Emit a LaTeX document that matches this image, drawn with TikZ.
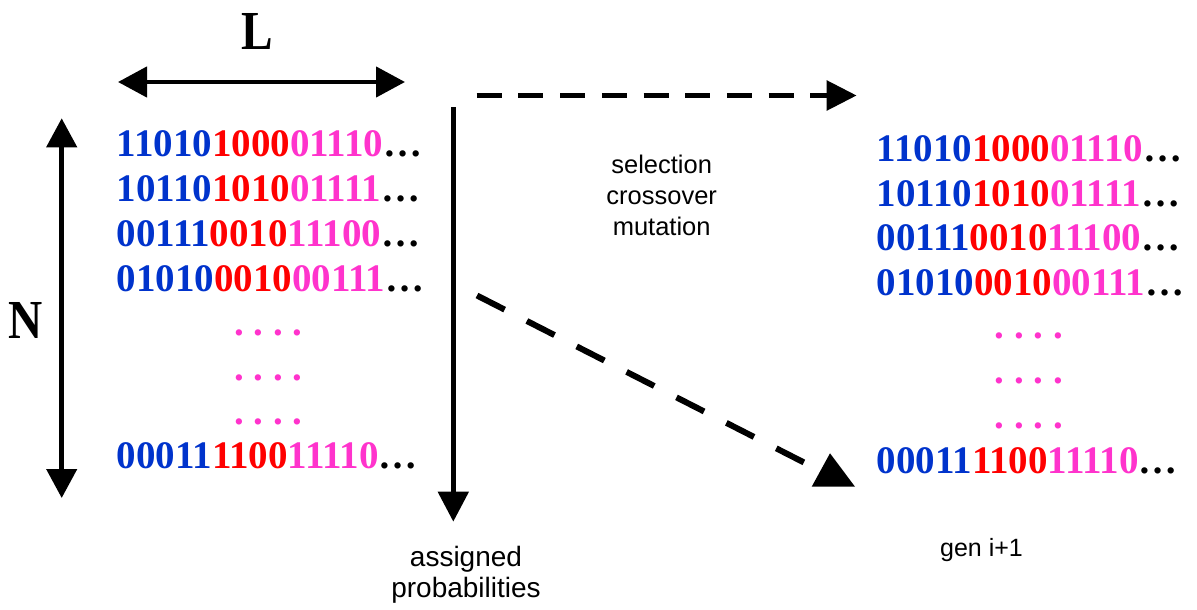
\documentclass[tikz,border=0pt]{standalone}
\usepackage{fontspec}
\setmainfont{Liberation Serif}
\newfontfamily\labelsans{Liberation Sans}
\usetikzlibrary{arrows.meta}
\definecolor{bitblue}{RGB}{0,51,204}
\definecolor{bitred}{RGB}{255,0,0}
\definecolor{bitpink}{RGB}{255,51,204}
\newcommand{\bits}[3]{{\color{bitblue}#1}{\color{bitred}#2}{\color{bitpink}#3}{\color{black}\char"2026}}
\tikzset{
  chrom/.style={anchor=base west,inner sep=0pt,outer sep=0pt,font=\fontsize{39}{40}\selectfont\bfseries},
  vdots/.style={anchor=base,inner sep=0pt,outer sep=0pt,text=bitpink,font=\fontsize{39}{40}\selectfont\bfseries},
  dimlabel/.style={anchor=base,inner sep=0pt,font=\fontsize{55}{60}\selectfont\bfseries},
  note/.style={align=center,inner sep=0pt,font=\labelsans\fontsize{25.5}{31}\selectfont},
  solidarrow/.style={line width=5pt,-{Triangle[length=30pt,width=30pt]}},
  dimarrow/.style={line width=4.5pt,{Triangle[length=29pt,width=30pt]}-{Triangle[length=29pt,width=30pt]}},
  dasharrow/.style={line width=5.5pt,dash pattern=on 25pt off 16.7pt,-{Triangle[length=30pt,width=29pt]}},
  dashline/.style={line width=6pt,dash pattern=on 31pt off 25pt}
}
\begin{document}
\begin{tikzpicture}[x=1pt,y=-1pt]
\useasboundingbox (0,0) rectangle (1197,610);
% left population
\node[chrom] (l1) at (116.7,156) {\bits{11010}{1000}{01110}};
\node[chrom] (l2) at (116.7,201.3) {\bits{10110}{1010}{01111}};
\node[chrom] (l3) at (116.7,246.5) {\bits{00111}{0010}{11100}};
\node[chrom] (l4) at (116.7,291.5) {\bits{01010}{0010}{00111}};
\node[vdots] (ld1) at (268.5,335) {.\ .\ .\ .};
\node[vdots] (ld2) at (268.5,380) {.\ .\ .\ .};
\node[vdots] (ld3) at (268.5,424) {.\ .\ .\ .};
\node[chrom] (l5) at (116.7,468) {\bits{00011}{1100}{11110}};
% right population
\node[chrom] (r1) at (876.7,161.5) {\bits{11010}{1000}{01110}};
\node[chrom] (r2) at (876.7,206) {\bits{10110}{1010}{01111}};
\node[chrom] (r3) at (876.7,250.7) {\bits{00111}{0010}{11100}};
\node[chrom] (r4) at (876.7,295) {\bits{01010}{0010}{00111}};
\node[vdots] (rd1) at (1029,338.7) {.\ .\ .\ .};
\node[vdots] (rd2) at (1029,383.7) {.\ .\ .\ .};
\node[vdots] (rd3) at (1029,428) {.\ .\ .\ .};
\node[chrom] (r5) at (876.7,473) {\bits{00011}{1100}{11110}};
% dimension labels
\node[dimlabel] (L) at (257,50) {\scalebox{0.86}[1]{L}};
\node[dimlabel] (N) at (26,338.3) {\scalebox{0.86}[1]{N}};
% text labels (base anchor = last line)
\node[note,anchor=base] (sel) at (661.7,235) {selection\\crossover\\mutation};
\node[note,anchor=base,font=\labelsans\fontsize{28}{30.5}\selectfont] (ap) at (466,597) {assigned\\probabilities};
\node[note,anchor=base,font=\labelsans\fontsize{25}{30}\selectfont] (gen) at (981.5,556.7) {gen i+1};
% arrow end points
\coordinate (Lw) at (118,82);
\coordinate (Le) at (405,82);
\coordinate (Nt) at (61.7,118.3);
\coordinate (Nb) at (61.7,498);
\coordinate (vt) at (453.3,107.3);
\coordinate (vb) at (453.3,521.7);
\coordinate (ht) at (476.7,95.5);
\coordinate (he) at (856.7,95.5);
\coordinate (ds) at (477,295.5);
\coordinate (de) at (805,463);
% arrows
\draw[dimarrow] (Lw) -- (Le);
\draw[dimarrow] (Nt) -- (Nb);
\draw[solidarrow] (vt) -- (vb);
\draw[dasharrow] (ht) -- (he);
\draw[dashline] (ds) -- (de);
\fill (811.7,486.7) -- (830,453.3) -- (855,486.7) -- cycle;
\end{tikzpicture}
\end{document}
